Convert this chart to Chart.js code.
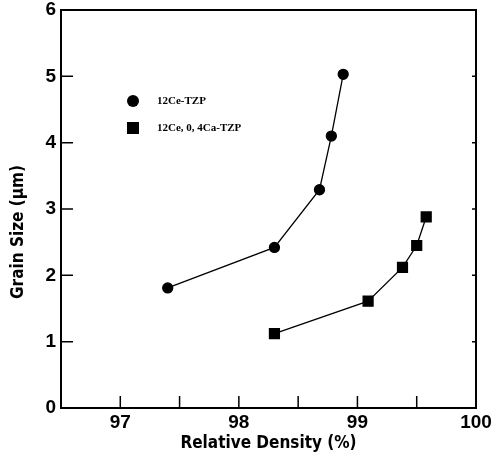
<!DOCTYPE html>
<html>
<head>
<meta charset="utf-8">
<script src="https://cdn.jsdelivr.net/npm/chart.js"></script>
<style>
  html, body { margin: 0; padding: 0; background: #fff; }
  #wrap { width: 501px; height: 463px; }
</style>
</head>
<body>
<div id="wrap"><canvas id="myChart"></canvas></div>
<script>
var ceDensity = [97.4, 98.3, 98.68, 98.78, 98.88];
var ceGrain = [1.81, 2.42, 3.29, 4.1, 5.03];
var caDensity = [98.3, 99.09, 99.38, 99.5, 99.58];
var caGrain = [1.12, 1.61, 2.12, 2.45, 2.88];
var seriesNames = ["12Ce-TZP", "12Ce, 0, 4Ca-TZP"];
var xLabels = [97, 98, 99, 100];
var yLabels = [0, 1, 2, 3, 4, 5, 6];
var titleFont = "'DejaVu Sans Condensed', 'DejaVu Sans'";

function pts(xs, ys) {
  return xs.map(function (x, i) { return {x: x, y: ys[i]}; });
}

// frame, inward ticks, legend inside the plot, y title
var decor = {
  id: "decor",
  afterDraw: function (chart) {
    var ctx = chart.ctx, a = chart.chartArea;
    var xs = chart.scales.x, ys = chart.scales.y;
    ctx.save();
    ctx.strokeStyle = "#000";
    ctx.lineWidth = 2;
    ctx.strokeRect(a.left, a.top, a.right - a.left, a.bottom - a.top);
    ctx.lineWidth = 1.5;
    ctx.beginPath();
    xs.ticks.forEach(function (t) {
      if (t.value <= xs.min || t.value >= xs.max) return;
      var px = xs.getPixelForValue(t.value);
      ctx.moveTo(px, a.bottom);
      ctx.lineTo(px, a.bottom - 12);
    });
    ys.ticks.forEach(function (t) {
      if (t.value <= ys.min || t.value >= ys.max) return;
      var py = ys.getPixelForValue(t.value);
      ctx.moveTo(a.left, py);
      ctx.lineTo(a.left + 12, py);
      ctx.moveTo(a.right, py);
      ctx.lineTo(a.right - 4, py);
    });
    ctx.stroke();

    // legend
    ctx.fillStyle = "#000";
    ctx.font = "bold 11px 'Liberation Serif'";
    ctx.textBaseline = "middle";
    chart.data.datasets.forEach(function (ds, i) {
      var cy = 101 + i * 27, cx = 133;
      ctx.beginPath();
      if (ds.pointStyle === "rect") {
        ctx.rect(cx - 6, cy - 6, 12, 12);
      } else {
        ctx.arc(cx, cy, 6, 0, Math.PI * 2);
      }
      ctx.fill();
      ctx.fillText(ds.label, 157, cy);
    });

    // y axis title
    ctx.translate(19, 232);
    ctx.rotate(-Math.PI / 2);
    ctx.textAlign = "center";
    ctx.font = "bold 17px " + titleFont;
    ctx.fillText("Grain Size (\u03bcm)", 0, 0);
    ctx.restore();
  }
};

new Chart("myChart", {
  type: "scatter",
  data: {
    datasets: [{
      label: seriesNames[0],
      data: pts(ceDensity, ceGrain),
      showLine: true,
      borderColor: "#000",
      backgroundColor: "#000",
      borderWidth: 1.3,
      pointStyle: "circle",
      pointRadius: 5,
      pointHoverRadius: 5
    }, {
      label: seriesNames[1],
      data: pts(caDensity, caGrain),
      showLine: true,
      borderColor: "#000",
      backgroundColor: "#000",
      borderWidth: 1.3,
      pointStyle: "rect",
      pointRadius: 7,
      pointHoverRadius: 7
    }]
  },
  options: {
    responsive: true,
    maintainAspectRatio: false,
    animation: false,
    layout: {padding: {left: 0, right: 25, top: 10, bottom: 0}},
    plugins: {
      legend: {display: false},
      tooltip: {enabled: false}
    },
    scales: {
      x: {
        type: "linear",
        min: 96.5,
        max: 100,
        afterFit: function (s) { s.height = 55; s.paddingLeft = 0; s.paddingRight = 0; },
        afterBuildTicks: function (s) {
          var t = [];
          for (var v = 97; v <= 100; v += 0.5) t.push({value: v});
          s.ticks = t;
        },
        border: {display: false},
        grid: {display: false, drawTicks: false},
        ticks: {
          autoSkip: false,
          maxRotation: 0,
          padding: 3,
          color: "#000",
          font: {family: "'Liberation Sans'", size: 19, weight: "bold"},
          callback: function (v) { return xLabels.indexOf(v) >= 0 ? String(v) : ""; }
        },
        title: {
          display: true,
          text: "Relative Density (%)",
          color: "#000",
          font: {family: titleFont, size: 17, weight: "bold"},
          padding: {top: 0, bottom: 9}
        }
      },
      y: {
        min: 0,
        max: 6,
        afterFit: function (s) { s.width = 61; s.paddingTop = 0; s.paddingBottom = 0; },
        afterBuildTicks: function (s) {
          s.ticks = yLabels.map(function (v) { return {value: v}; });
        },
        border: {display: false},
        grid: {display: false, drawTicks: false},
        ticks: {
          padding: 5,
          color: "#000",
          font: {family: "'Liberation Sans'", size: 19, weight: "bold"}
        }
      }
    }
  },
  plugins: [decor]
});
</script>
</body>
</html>
